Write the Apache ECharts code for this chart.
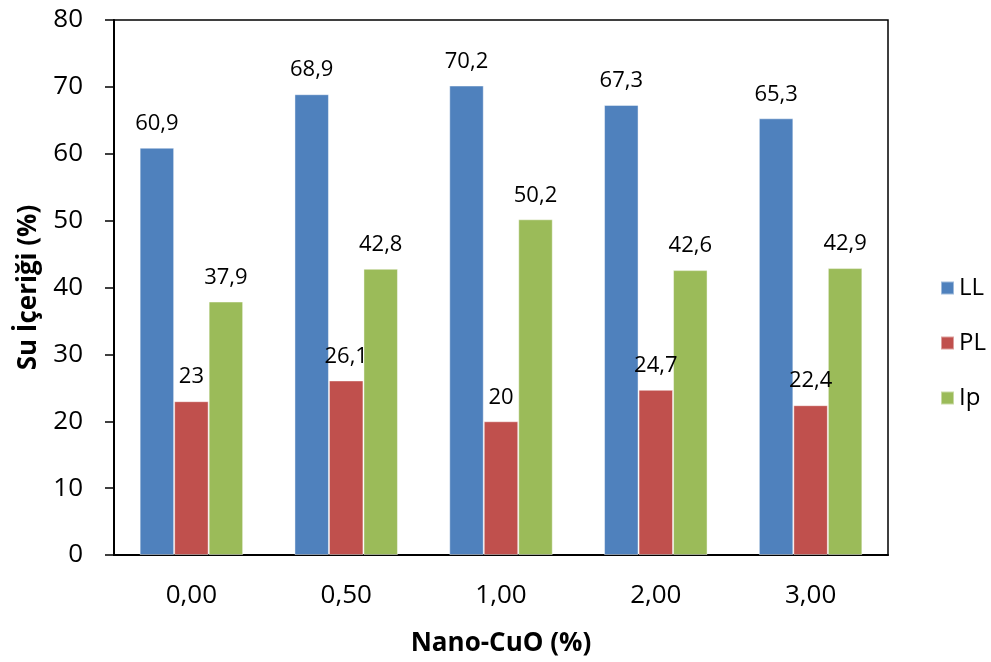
<!DOCTYPE html>
<html><head><meta charset="utf-8">
<script src="https://cdn.jsdelivr.net/npm/echarts@6/dist/echarts.min.js"></script>
<style>html,body{margin:0;padding:0;background:#fff}#c{width:991px;height:662px}</style>
</head><body><div id="c"></div>
<script>
const categories = ['0,00', '0,50', '1,00', '2,00', '3,00'];
const LL = [60.9, 68.9, 70.2, 67.3, 65.3];
const PL = [23, 26.1, 20, 24.7, 22.4];
const Ip = [37.9, 42.8, 50.2, 42.6, 42.9];
const yTicks = [0, 10, 20, 30, 40, 50, 60, 70, 80];

const font = '"Open Sans", "Noto Sans", sans-serif';
const fmt = p => String(p.value).replace('.', ',');
function mk(name, data, color) {
  return {
    name, type: 'bar', data, barWidth: 34.5, barGap: '0%', barCategoryGap: '33%',
    itemStyle: { color, borderColor: 'rgba(255,255,255,0.45)', borderWidth: 1 },
    label: { show: true, position: 'top', distance: 13, formatter: fmt,
             fontFamily: font, fontSize: 22, color: '#000' }
  };
}
const chart = echarts.init(document.getElementById('c'));
chart.setOption({
  animation: false,
  grid: { left: 114, right: 103, top: 20, bottom: 107, show: true, borderColor: '#000', borderWidth: 1.5 },
  legend: {
    orient: 'vertical', left: 935, top: 271, itemGap: 31, itemWidth: 13, itemHeight: 13,
    icon: 'rect', textStyle: { fontFamily: font, fontSize: 24, color: '#000' },
    data: ['LL', 'PL', 'Ip']
  },
  xAxis: {
    type: 'category', data: categories,
    axisLine: { lineStyle: { color: '#000', width: 2 } },
    axisTick: { show: false },
    axisLabel: { fontFamily: font, fontSize: 26, color: '#000', margin: 28 },
    name: 'Nano-CuO (%)', nameLocation: 'middle', nameGap: 76,
    nameTextStyle: { fontFamily: font, fontSize: 26, fontWeight: 'bold', color: '#000' }
  },
  yAxis: {
    type: 'value', min: yTicks[0], max: yTicks[yTicks.length - 1], interval: 10,
    axisLine: { show: true, lineStyle: { color: '#000', width: 2 } },
    axisTick: { show: true, length: 9, lineStyle: { color: '#000', width: 1.5 } },
    splitLine: { show: false },
    axisLabel: { fontFamily: font, fontSize: 26, color: '#000', margin: 31 },
    name: 'Su İçeriği (%)', nameLocation: 'middle', nameGap: 72, nameRotate: 90,
    nameTextStyle: { fontFamily: font, fontSize: 26, fontWeight: 'bold', color: '#000' }
  },
  series: [mk('LL', LL, '#4F81BD'), mk('PL', PL, '#C0504D'), mk('Ip', Ip, '#9BBB59')]
});
</script></body></html>
